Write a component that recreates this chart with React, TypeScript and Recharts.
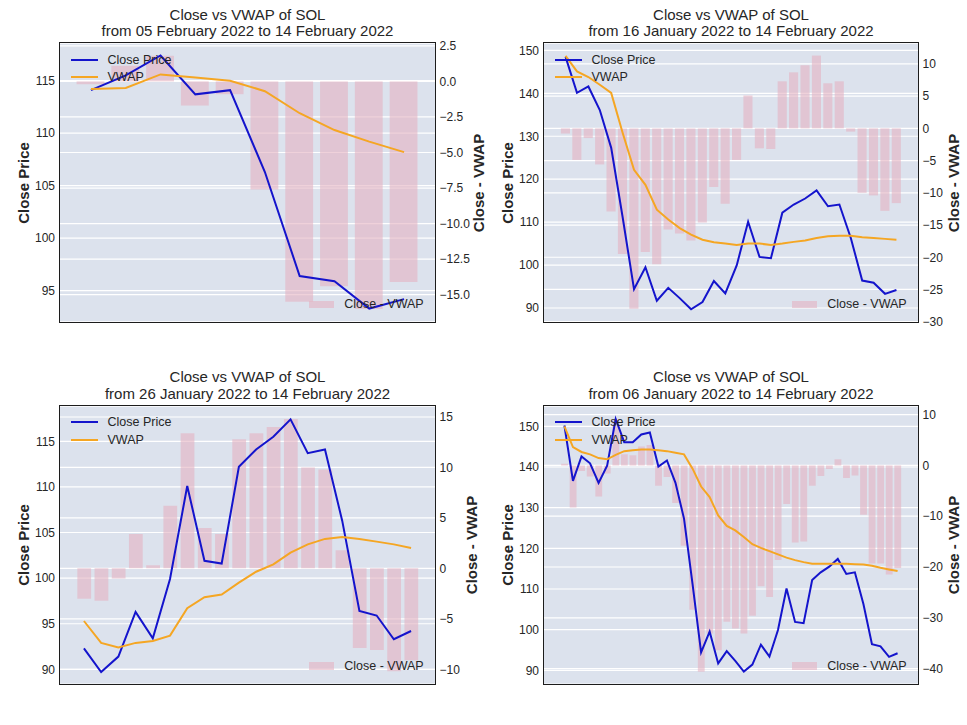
import { ComposedChart, Bar, Line, XAxis, YAxis, CartesianGrid } from 'recharts'

// SOL daily close, 06 Jan 2022 .. 14 Feb 2022 (40 days)
const CLOSE = [
  150.2, 136.6, 142.6, 140.9, 136.1, 140.3, 151.8, 146.1, 146.1, 148.0,
  148.5, 140.1, 141.6, 136.1, 127.3, 111.2, 94.4, 99.5, 91.7, 94.7,
  92.3, 89.7, 91.4, 96.3, 93.4, 99.9, 110.1, 101.9, 101.6, 112.2,
  114.1, 115.5, 117.4, 113.7, 114.1, 106.3, 96.4, 95.9, 93.3, 94.2,
]

// VWAP and Close - VWAP for each window
const VWAP_10 = [114.2, 114.3, 115.6, 115.3, 115.0, 114.0, 111.9, 110.3, 109.2, 108.2]
const DIFF_10 = [-0.2, 1.1, 1.8, -1.7, -0.9, -7.6, -15.5, -14.4, -16.0, -14.1]

const VWAP_30 = [
  148.7, 145.1, 143.8, 142.0, 140.1, 130.8, 122.2, 118.7, 112.9, 110.6,
  108.6, 107.1, 105.9, 105.3, 105.0, 104.7, 105.0, 105.0, 104.7, 105.0,
  105.4, 105.7, 106.3, 106.7, 106.8, 106.8, 106.5, 106.3, 106.1, 105.9,
]
const DIFF_30 = [
  -0.8, -4.9, -1.5, -5.6, -12.9, -19.5, -28.0, -19.2, -21.1, -15.7,
  -16.3, -17.4, -14.6, -9.1, -11.7, -4.9, 5.1, -3.1, -3.2, 7.3,
  8.7, 9.8, 11.3, 7.0, 7.3, -0.5, -10.0, -10.4, -12.8, -11.6,
]

const VWAP_20 = [
  95.3, 92.9, 92.4, 92.9, 93.1, 93.7, 96.7, 97.9, 98.2, 99.5,
  100.7, 101.5, 102.8, 103.7, 104.3, 104.5, 104.3, 104.0, 103.7, 103.3,
]
const DIFF_20 = [
  -3.0, -3.2, -1.0, 3.4, 0.3, 6.2, 13.4, 4.0, 3.4, 12.8,
  13.4, 14.0, 14.8, 10.0, 9.8, 1.8, -7.9, -8.1, -10.2, -9.1,
]

const VWAP_40 = [
  150.0, 144.9, 143.7, 143.1, 142.2, 141.9, 143.0, 143.9, 144.1, 144.3,
  144.3, 144.1, 143.9, 143.5, 143.1, 139.6, 135.2, 132.6, 128.1, 125.5,
  124.4, 122.8, 121.0, 120.1, 119.3, 118.5, 117.7, 117.1, 116.6, 116.2,
  116.2, 116.2, 116.2, 116.2, 116.1, 116.0, 115.7, 115.2, 114.8, 114.4,
]
const DIFF_40 = [
  0.3, -8.3, -1.1, -2.2, -6.1, -1.6, 9.0, 2.2, 2.0, 3.7,
  4.0, -4.0, -2.3, -7.4, -15.8, -28.4, -40.6, -33.1, -36.4, -30.8,
  -32.1, -33.1, -29.6, -23.8, -25.9, -18.6, -7.6, -15.2, -15.0, -4.0,
  -2.1, -0.7, 1.2, -2.5, -2.0, -9.7, -19.3, -19.3, -21.5, -20.2,
]

const TITLE = 'Close vs VWAP of SOL'
const PERIODS = [
  'from 05 February 2022 to 14 February 2022',
  'from 16 January 2022 to 14 February 2022',
  'from 26 January 2022 to 14 February 2022',
  'from 06 January 2022 to 14 February 2022',
]

const TICKS_L_10 = [95, 100, 105, 110, 115]
const TICKS_R_10 = [2.5, 0, -2.5, -5, -7.5, -10, -12.5, -15]
const TICKS_L_30 = [90, 100, 110, 120, 130, 140, 150]
const TICKS_R_30 = [10, 5, 0, -5, -10, -15, -20, -25, -30]
const TICKS_L_20 = [90, 95, 100, 105, 110, 115]
const TICKS_R_20 = [15, 10, 5, 0, -5, -10]
const TICKS_L_40 = [90, 100, 110, 120, 130, 140, 150]
const TICKS_R_40 = [10, 0, -10, -20, -30, -40]

const FONT = '"Liberation Sans", Arial, sans-serif'
const INK = '#262626'
const BG = '#dce2ed'
const PINK = '#e4b3c2'
const BLUE = '#1414cc'
const ORANGE = '#f5a623'
const AX = 50

const panels = [
  {
    period: PERIODS[0], close: CLOSE.slice(30), vwap: VWAP_10, diff: DIFF_10,
    left: 60, top: 43.3, w: 375, h: 279,
    lDomain: [92.02, 118.59], rDomain: [-16.92, 2.7], lTicks: TICKS_L_10, rTicks: TICKS_R_10,
    decimals: 1, rLabelOff: 42.7,
  },
  {
    period: PERIODS[1], close: CLOSE.slice(10), vwap: VWAP_30, diff: DIFF_30,
    left: 544, top: 43.3, w: 374, h: 279,
    lDomain: [86.74, 151.72], rDomain: [-30.05, 13.25], lTicks: TICKS_L_30, rTicks: TICKS_R_30,
    decimals: 0, rLabelOff: 35.3,
  },
  {
    period: PERIODS[2], close: CLOSE.slice(20), vwap: VWAP_20, diff: DIFF_20,
    left: 60, top: 405.7, w: 375, h: 278.3,
    lDomain: [88.36, 118.87], rDomain: [-11.49, 16.09], lTicks: TICKS_L_20, rTicks: TICKS_R_20,
    decimals: 0, rLabelOff: 35.7,
  },
  {
    period: PERIODS[3], close: CLOSE, vwap: VWAP_40, diff: DIFF_40,
    left: 544, top: 405.7, w: 374, h: 278.3,
    lDomain: [86.56, 155.0], rDomain: [-43.09, 11.69], lTicks: TICKS_L_40, rTicks: TICKS_R_40,
    decimals: 0, rLabelOff: 35.3,
  },
]

const fmt = (d: number) => (v: number) => {
  const s = Math.abs(v).toFixed(d)
  return v < 0 ? '\u2212' + s : s
}

function Panel({ p }: { p: any }) {
  const n = p.close.length
  const pad = 0.4 + 0.05 * (n - 0.2)
  const data = p.close.map((c: number, i: number) => ({
    i,
    close: c,
    vwap: p.vwap[i],
    diff: p.diff[i],
  }))
  const barSize = (0.8 * p.w) / (n - 1 + 2 * pad)
  const { left: L, top: T, w: W, h: H } = p
  const tick = { fill: INK, fontSize: 12, fontFamily: FONT }

  return (
    <>
      <div style={{ position: 'absolute', left: L - AX, top: T - 10 }}>
        <ComposedChart
          width={W + 2 * AX}
          height={H + 20}
          data={data}
          margin={{ top: 10, bottom: 10, left: 0, right: 0 }}
        >
          <CartesianGrid yAxisId="l" vertical={false} fill={BG} stroke="#ffffff" strokeWidth={1.2} />
          <CartesianGrid yAxisId="r" vertical={false} stroke="#ffffff" strokeWidth={1.2} />
          <XAxis dataKey="i" type="number" domain={[-pad, n - 1 + pad]} hide allowDataOverflow />
          <YAxis
            yAxisId="l"
            orientation="left"
            width={AX}
            domain={p.lDomain}
            ticks={p.lTicks}
            interval={0}
            allowDataOverflow
            axisLine={false}
            tickLine={false}
            tickSize={0}
            tickMargin={5}
            tick={tick}
          />
          <YAxis
            yAxisId="r"
            orientation="right"
            width={AX}
            domain={p.rDomain}
            ticks={p.rTicks}
            interval={0}
            allowDataOverflow
            axisLine={false}
            tickLine={false}
            tickSize={0}
            tickMargin={4.5}
            tick={tick}
            tickFormatter={fmt(p.decimals)}
          />
          <Bar
            yAxisId="r"
            dataKey="diff"
            fill={PINK}
            fillOpacity={0.6}
            barSize={barSize}
            isAnimationActive={false}
          />
          <Line
            yAxisId="l"
            dataKey="close"
            stroke={BLUE}
            strokeWidth={2}
            dot={false}
            isAnimationActive={false}
          />
          <Line
            yAxisId="l"
            dataKey="vwap"
            stroke={ORANGE}
            strokeWidth={2}
            dot={false}
            isAnimationActive={false}
          />
        </ComposedChart>
      </div>

      {/* frame */}
      <div
        style={{
          position: 'absolute',
          left: L - 1,
          top: T - 1,
          width: W + 2,
          height: H + 2,
          border: '1.6px solid #1c1c1c',
          boxSizing: 'border-box',
          pointerEvents: 'none',
        }}
      />

      {/* title */}
      {[TITLE, p.period].map((t, k) => (
        <div
          key={k}
          style={{
            position: 'absolute',
            left: L + W / 2 - 250,
            width: 500,
            top: T - 28.3 + k * 16.3 - 9,
            height: 18,
            lineHeight: '18px',
            textAlign: 'center',
            fontSize: 15,
            color: INK,
          }}
        >
          {t}
        </div>
      ))}

      {/* axis labels */}
      <div
        style={{
          position: 'absolute',
          left: L - 37.3,
          top: T + H / 2,
          transform: 'translate(-50%, -50%) rotate(-90deg)',
          whiteSpace: 'nowrap',
          fontWeight: 'bold',
          fontSize: 15,
          color: INK,
        }}
      >
        Close Price
      </div>
      <div
        style={{
          position: 'absolute',
          left: L + W + p.rLabelOff,
          top: T + H / 2,
          transform: 'translate(-50%, -50%) rotate(-90deg)',
          whiteSpace: 'nowrap',
          fontWeight: 'bold',
          fontSize: 15,
          color: INK,
        }}
      >
        Close - VWAP
      </div>

      {/* upper-left legend */}
      {[
        { label: 'Close Price', color: BLUE, dy: 16.4 },
        { label: 'VWAP', color: ORANGE, dy: 34 },
      ].map((e) => (
        <div key={e.label}>
          <div
            style={{
              position: 'absolute',
              left: L + 11,
              top: T + e.dy - 1,
              width: 27,
              height: 2,
              background: e.color,
            }}
          />
          <div
            style={{
              position: 'absolute',
              left: L + 47.5,
              top: T + e.dy - 8,
              height: 16,
              lineHeight: '16px',
              fontSize: 12.5,
              color: INK,
              whiteSpace: 'nowrap',
            }}
          >
            {e.label}
          </div>
        </div>
      ))}

      {/* lower-right legend */}
      <div
        style={{
          position: 'absolute',
          left: L + W - 126.3,
          top: T + H - 18 - 3.7,
          width: 25.6,
          height: 7.4,
          background: PINK,
          opacity: 0.6,
        }}
      />
      <div
        style={{
          position: 'absolute',
          right: 967 - (L + W - 11.3),
          top: T + H - 18 - 8,
          height: 16,
          lineHeight: '16px',
          fontSize: 12.5,
          color: INK,
          whiteSpace: 'nowrap',
        }}
      >
        Close - VWAP
      </div>
    </>
  )
}

export default function App() {
  return (
    <div
      style={{
        position: 'absolute',
        left: 0,
        top: 0,
        width: 967,
        height: 725,
        background: '#ffffff',
        fontFamily: FONT,
        overflow: 'hidden',
      }}
    >
      {panels.map((p, k) => (
        <Panel key={k} p={p} />
      ))}
    </div>
  )
}
